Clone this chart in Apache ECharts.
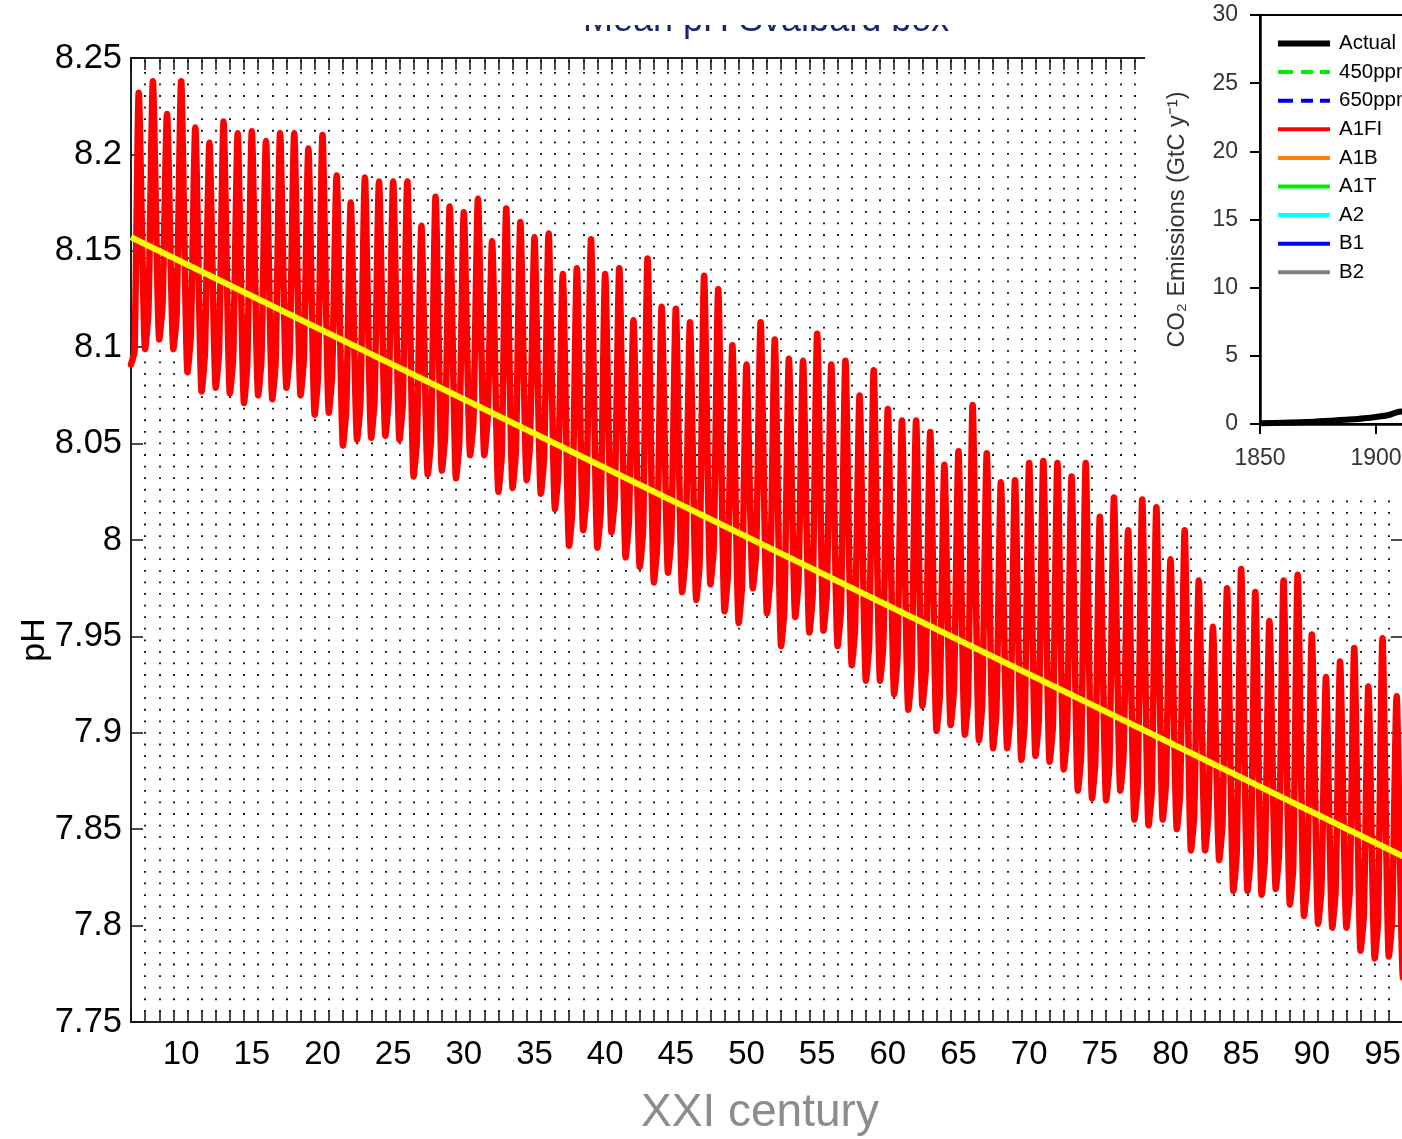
<!DOCTYPE html>
<html>
<head>
<meta charset="utf-8">
<title>Mean pH Svalbard box</title>
<script src="https://cdn.jsdelivr.net/npm/echarts@6/dist/echarts.min.js"></script>
<style>
  html, body { margin: 0; padding: 0; overflow: hidden; background: #fff; width: 1402px; height: 1139px; }
  #chart { position: absolute; left: 0; top: 0; width: 1900px; height: 1139px; }
</style>
</head>
<body>
<div id="chart"></div>
<script>
// ---- Monthly-resolution pH, summarised per year: spring peak, following low, late-year shoulder ----
const YEARS = [
  7, 8, 9, 10, 11, 12, 13, 14, 15, 16, 17, 18, 19, 20, 21, 22, 23, 24, 25, 26,
  27, 28, 29, 30, 31, 32, 33, 34, 35, 36, 37, 38, 39, 40, 41, 42, 43, 44, 45, 46,
  47, 48, 49, 50, 51, 52, 53, 54, 55, 56, 57, 58, 59, 60, 61, 62, 63, 64, 65, 66,
  67, 68, 69, 70, 71, 72, 73, 74, 75, 76, 77, 78, 79, 80, 81, 82, 83, 84, 85, 86,
  87, 88, 89, 90, 91, 92, 93, 94, 95, 96
];
const PH_PEAK = [
  8.232, 8.238, 8.221, 8.238, 8.214, 8.206, 8.217, 8.211, 8.212, 8.207,
  8.211, 8.211, 8.203, 8.210, 8.189, 8.175, 8.188, 8.186, 8.186, 8.186,
  8.163, 8.178, 8.173, 8.170, 8.177, 8.155, 8.172, 8.165, 8.157, 8.159,
  8.138, 8.141, 8.156, 8.138, 8.141, 8.114, 8.146, 8.121, 8.120, 8.113,
  8.137, 8.130, 8.101, 8.091, 8.113, 8.104, 8.094, 8.093, 8.107, 8.091,
  8.093, 8.075, 8.088, 8.068, 8.062, 8.062, 8.056, 8.039, 8.046, 8.070,
  8.045, 8.030, 8.031, 8.040, 8.041, 8.040, 8.033, 8.040, 8.012, 8.022,
  8.005, 8.021, 8.017, 7.990, 8.005, 7.979, 7.955, 7.975, 7.985, 7.973,
  7.958, 7.979, 7.982, 7.951, 7.929, 7.937, 7.944, 7.924, 7.949, 7.919
];
const PH_LOW = [
  8.099, 8.104, 8.099, 8.087, 8.077, 8.079, 8.076, 8.071, 8.075, 8.073,
  8.079, 8.075, 8.065, 8.066, 8.049, 8.052, 8.053, 8.054, 8.052, 8.033,
  8.034, 8.036, 8.032, 8.044, 8.044, 8.025, 8.027, 8.031, 8.024, 8.016,
  7.997, 8.005, 7.996, 8.004, 7.991, 7.986, 7.978, 7.983, 7.973, 7.969,
  7.977, 7.963, 7.957, 7.975, 7.962, 7.945, 7.960, 7.952, 7.953, 7.945,
  7.935, 7.927, 7.927, 7.920, 7.912, 7.914, 7.901, 7.904, 7.899, 7.896,
  7.892, 7.892, 7.886, 7.888, 7.885, 7.881, 7.870, 7.866, 7.865, 7.870,
  7.855, 7.852, 7.855, 7.850, 7.839, 7.839, 7.834, 7.818, 7.818, 7.816,
  7.819, 7.811, 7.805, 7.801, 7.799, 7.799, 7.787, 7.783, 7.784, 7.773
];
const PH_SHOULDER = [
  8.118, 8.122, 8.117, 8.106, 8.097, 8.098, 8.095, 8.092, 8.094, 8.092,
  8.097, 8.094, 8.085, 8.086, 8.068, 8.071, 8.072, 8.073, 8.071, 8.052,
  8.053, 8.055, 8.051, 8.062, 8.063, 8.044, 8.046, 8.050, 8.043, 8.035,
  8.016, 8.024, 8.015, 8.022, 8.010, 8.005, 7.997, 8.002, 7.992, 7.988,
  7.996, 7.982, 7.976, 7.993, 7.981, 7.964, 7.979, 7.971, 7.972, 7.964,
  7.954, 7.946, 7.946, 7.939, 7.931, 7.933, 7.920, 7.923, 7.918, 7.915,
  7.911, 7.911, 7.905, 7.907, 7.904, 7.900, 7.889, 7.885, 7.884, 7.889,
  7.874, 7.871, 7.874, 7.869, 7.858, 7.858, 7.853, 7.837, 7.837, 7.835,
  7.838, 7.830, 7.824, 7.820, 7.818, 7.818, 7.806, 7.802, 7.803, 7.792
];
// fraction of the year at which each of the three yearly samples falls
const SEASON_PHASE = [0, 0.45, 0.68];
// record opening (start of the series, before the first spring peak)
const PH_START = [[6.45, 8.091], [6.7, 8.098]];
// linear trend of the pH record
const PH_TREND = [[6.45, 8.157], [96.45, 7.836]];

const X_MIN = 6.45, X_MAX = 96.45;
const X_LABELS = [10, 15, 20, 25, 30, 35, 40, 45, 50, 55, 60, 65, 70, 75, 80, 85, 90, 95];

// ---- Inset: CO2 emissions ----
const EMISSION_YEARS  = [1850, 1860, 1870, 1880, 1890, 1895, 1900, 1905, 1910, 1915, 1920];
const EMISSION_ACTUAL = [0.05, 0.10, 0.15, 0.24, 0.34, 0.42, 0.52, 0.64, 0.90, 0.95, 1.00];
const SCENARIO_NAMES  = ['450ppm', '650ppm', 'A1FI', 'A1B', 'A1T', 'A2', 'B1', 'B2'];
const SCENARIO_COLORS = ['#00ee00', '#0000ee', '#ff0000', '#ff8000', '#00ee00', '#00ffff', '#0000ff', '#808080'];
const SCENARIO_DASHED = [true, true, false, false, false, false, false, false];

// ---- build line data ----
const phData = PH_START.slice();
YEARS.forEach((y, i) => {
  phData.push([y + SEASON_PHASE[0], PH_PEAK[i]]);
  phData.push([y + SEASON_PHASE[1], PH_LOW[i]]);
  phData.push([y + SEASON_PHASE[2], PH_SHOULDER[i]]);
});
const actualData = EMISSION_YEARS.map((y, i) => [y, EMISSION_ACTUAL[i]]);

const FONT = "'Liberation Sans', Arial, Helvetica, sans-serif";
const ICON_SOLID = 'path://M0,0M52,14M0,5h52v4h-52z';
const ICON_THICK = 'path://M0,0M52,14M0,4h52v6h-52z';
const ICON_DASH  = 'path://M0,0M52,14M0,5h15v4h-15zM23,5h12v4h-12zM42,5h10v4h-10z';

const chart = echarts.init(document.getElementById('chart'), null, { renderer: 'canvas' });

const scenarioSeries = SCENARIO_NAMES.map((n, i) => ({
  name: n, type: 'line', xAxisIndex: 3, yAxisIndex: 2, data: [],
  symbol: 'none', color: SCENARIO_COLORS[i], z: 11,
  lineStyle: { width: 4, type: SCENARIO_DASHED[i] ? 'dashed' : 'solid' }
}));

const option = {
  animation: false,
  backgroundColor: '#fff',
  textStyle: { fontFamily: FONT },
  grid: [
    { left: 131, top: 58, width: 1272, height: 964, show: false },
    { left: 1260, top: 15, width: 580, height: 409, show: true,
      backgroundColor: '#fff', borderColor: '#000', borderWidth: 2, z: 6 }
  ],
  xAxis: [
    { // main axis with year labels
      type: 'value', gridIndex: 0, min: X_MIN, max: X_MAX, position: 'bottom',
      axisLine: { show: true, onZero: false, lineStyle: { color: '#222', width: 2 } },
      axisTick: { show: false },
      splitLine: { show: false },
      axisLabel: { customValues: X_LABELS, fontSize: 33, color: '#000', margin: 16, fontFamily: FONT }
    },
    { // yearly ticks and dotted grid (counted from the left edge)
      type: 'value', gridIndex: 0, min: 0, max: 90, interval: 1, position: 'bottom',
      axisLine: { show: false },
      axisTick: { show: true, inside: true, length: 12, lineStyle: { color: '#111', width: 1.5 } },
      axisLabel: { show: false },
      splitLine: { show: true, lineStyle: { color: '#000', width: 1.8, type: [1.8, 9.78], dashOffset: 9.2 } }
    },
    { // top frame with mirrored ticks
      type: 'value', gridIndex: 0, min: 0, max: 90, interval: 1, position: 'top',
      axisLine: { show: true, onZero: false, lineStyle: { color: '#222', width: 2 } },
      axisTick: { show: true, inside: true, length: 12, lineStyle: { color: '#111', width: 1.5 } },
      axisLabel: { show: false },
      splitLine: { show: false }
    },
    { // inset time axis
      type: 'value', gridIndex: 1, min: 1850, max: 2100, interval: 50, position: 'bottom', z: 7,
      axisLine: { show: true, onZero: false, lineStyle: { color: '#000', width: 2.5 } },
      axisTick: { show: true, inside: false, length: 10, lineStyle: { color: '#000', width: 2 } },
      axisLabel: { fontSize: 23, color: '#333', margin: 23, fontFamily: FONT,
                   formatter: v => String(v) },
      splitLine: { show: false }
    }
  ],
  yAxis: [
    {
      type: 'value', gridIndex: 0, min: 7.75, max: 8.25, interval: 0.05, position: 'left',
      axisLine: { show: true, onZero: false, lineStyle: { color: '#222', width: 2 } },
      axisTick: { show: true, inside: true, length: 12, lineStyle: { color: '#111', width: 1.5 } },
      axisLabel: { fontSize: 34.5, color: '#000', margin: 9, fontFamily: FONT },
      splitLine: { show: false }
    },
    {
      type: 'value', gridIndex: 0, min: 7.75, max: 8.25, interval: 0.05, position: 'right',
      axisLine: { show: true, onZero: false, lineStyle: { color: '#222', width: 2 } },
      axisTick: { show: true, inside: true, length: 12, lineStyle: { color: '#111', width: 1.5 } },
      axisLabel: { show: false },
      splitLine: { show: false }
    },
    {
      type: 'value', gridIndex: 1, min: 0, max: 30, interval: 5, position: 'left', z: 7,
      name: 'CO\u2082 Emissions (GtC y\u207B\u00B9)', nameLocation: 'middle', nameGap: 70,
      nameTextStyle: { fontSize: 23.5, color: '#333', fontFamily: FONT },
      axisLine: { show: true, onZero: false, lineStyle: { color: '#000', width: 2.5 } },
      axisTick: { show: true, inside: false, length: 10, lineStyle: { color: '#000', width: 2 } },
      axisLabel: { fontSize: 23, color: '#333', margin: 22, fontFamily: FONT },
      splitLine: { show: false }
    }
  ],
  legend: {
    orient: 'vertical', left: 1278, top: 33, padding: 0, z: 12,
    itemWidth: 52, itemHeight: 14, itemGap: 7.6,
    textStyle: { fontSize: 20.5, color: '#000', lineHeight: 19, fontFamily: FONT, padding: [0, 0, 0, 4] },
    data: [{ name: 'Actual', icon: ICON_THICK }].concat(
      SCENARIO_NAMES.map((n, i) => ({ name: n, icon: SCENARIO_DASHED[i] ? ICON_DASH : ICON_SOLID })))
  },
  graphic: [
    { // white panel behind the inset
      type: 'rect', z: 5, silent: true,
      shape: { x: 1145, y: 0, width: 760, height: 492 },
      style: { fill: '#fff' }
    },
    {
      type: 'text', z: 4, x: 583, y: 21,
      style: { text: 'Mean pH Svalbard box', font: "36px " + FONT, fill: '#1a2570',
               align: 'left', verticalAlign: 'middle' }
    },
    { // page edge covering the upper part of the title
      type: 'rect', z: 5, silent: true,
      shape: { x: 500, y: 0, width: 600, height: 25 },
      style: { fill: '#fff' }
    },
    {
      type: 'text', z: 4, x: 35, y: 640, rotation: Math.PI / 2,
      style: { text: 'pH', font: "34px " + FONT, fill: '#000', align: 'center', verticalAlign: 'middle' }
    },
    {
      type: 'text', z: 4, x: 760, y: 1113,
      style: { text: 'XXI century', font: "46px " + FONT, fill: '#8c8c8c', align: 'center', verticalAlign: 'middle' }
    }
  ],
  series: [
    {
      name: 'pH', type: 'line', xAxisIndex: 0, yAxisIndex: 0, data: phData,
      symbol: 'none', clip: true, z: 3, smooth: 0.2,
      lineStyle: { color: '#ff0000', width: 6.5, join: 'round', cap: 'round' }
    },
    {
      name: 'trend', type: 'line', xAxisIndex: 0, yAxisIndex: 0, data: PH_TREND,
      symbol: 'none', clip: true, z: 4,
      lineStyle: { color: '#ffff00', width: 6 }
    },
    {
      name: 'Actual', type: 'line', xAxisIndex: 3, yAxisIndex: 2, data: actualData,
      symbol: 'none', color: '#000', z: 11, smooth: 0.3,
      lineStyle: { width: 6 }
    }
  ].concat(scenarioSeries)
};

chart.setOption(option);
</script>
</body>
</html>
